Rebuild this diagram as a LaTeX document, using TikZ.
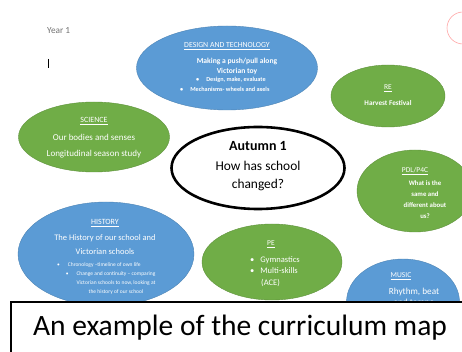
\documentclass[tikz,border=0pt]{standalone}
\usepackage{fontspec}
\setmainfont{Carlito}
\usetikzlibrary{shapes.geometric}
\definecolor{offblue}{HTML}{5B9BD5}
\definecolor{offgreen}{HTML}{70AD47}
\tikzset{
  bubble/.style={ellipse, inner sep=0pt},
  bluebub/.style={bubble, fill=offblue, draw=offblue!85!black, line width=0.4pt},
  greenbub/.style={bubble, fill=offgreen, draw=offgreen!85!black, line width=0.4pt},
  wtxt/.style={text=white, align=center, inner sep=0pt},
  fs/.style 2 args={font=\fontsize{#1}{#2}\selectfont},
  fsb/.style 2 args={font=\fontsize{#1}{#2}\selectfont\bfseries},
}
\newcommand{\hd}[1]{\underline{#1}}
\begin{document}
\begin{tikzpicture}[x=1pt,y=-1pt]
\useasboundingbox (0,0) rectangle (462,352);
\clip (0,0) rectangle (462,352);
\fill[white] (0,0) rectangle (462,352);

% faint logo at top right
\node[circle, draw=red!35, line width=0.6pt, minimum size=32pt, inner sep=0pt] (logo) at (463,28) {};

% Year 1 and cursor
\node[anchor=west, text=black!55, fs={9.3}{10}, inner sep=0pt] (year) at (47,31) {Year 1};
\coordinate (cura) at (48.5,59);
\coordinate (curb) at (48.5,68);
\draw[line width=0.6pt] (cura) -- (curb);

% Design and technology
\node[bluebub, minimum width=181pt, minimum height=84pt] (dt) at (227,68) {};
\node[wtxt, fs={7.8}{10}] (dthd) at (227,46) {\hd{DESIGN AND TECHNOLOGY}};
\node[wtxt, fsb={7.6}{10}] (dtt) at (237,66) {Making a push/pull along\\Victorian toy};
\node[wtxt, fsb={6.2}{9.5}, align=left, anchor=north west] (dtb) at (180,77) {\hspace*{16pt}\textbullet\hspace{7pt}Design, make, evaluate\\\textbullet\hspace{7pt}Mechanisms- wheels and axels};

% RE
\node[greenbub, minimum width=114pt, minimum height=62pt] (re) at (388,96) {};
\node[wtxt, fs={7.5}{8}] (rehd) at (388,88) {\hd{RE}};
\node[wtxt, fsb={7.2}{8}] (ret) at (388,103) {Harvest Festival};

% Science
\node[greenbub, minimum width=151pt, minimum height=70pt] (sci) at (94,137) {};
\node[wtxt, fs={8}{8}] (scihd) at (94,121) {\hd{SCIENCE}};
\node[wtxt, fs={9}{16}] (scit) at (94,146) {Our bodies and senses\\Longitudinal season study};

% Autumn centre
\node[bubble, draw=black, line width=2.6pt, fill=white, minimum width=173pt, minimum height=82pt] (aut) at (258,168) {};
\node[align=center, inner sep=0pt, fsb={14}{14}] (auth) at (258,146) {Autumn 1};
\node[align=center, inner sep=0pt, fs={13.4}{18.5}] (autt) at (258,176) {How has school\\changed?};

% PDL / P4C
\node[greenbub, minimum width=116pt, minimum height=82pt] (pdl) at (415,191) {};
\begin{scope}
\clip (415,191) ellipse (58 and 40);
\node[wtxt, fs={7.5}{8}] (pdlhd) at (415,171) {\hd{PDL/P4C}};
\node[wtxt, fsb={6.8}{11}, anchor=north] (pdlt) at (425,181) {What is the\\same and\\different about\\us?};
\end{scope}

% History
\node[bluebub, minimum width=176pt, minimum height=104pt] (his) at (106,254) {};
\node[wtxt, fs={8}{8}] (hishd) at (105,223) {\hd{HISTORY}};
\node[wtxt, fs={8.5}{14}] (hist) at (105,245) {The History of our school and\\Victorian schools};
\node[wtxt, fs={5.5}{9.3}, anchor=north west, align=left] (hisb1) at (57,262) {\textbullet\hspace{8pt}Chronology \textendash timeline of own life};
\node[wtxt, fs={5.5}{9.3}, anchor=north] (hisb2) at (116,271) {\llap{\textbullet\hspace{8pt}}Change and continuity \textendash{} comparing\\Victorian schools to now, looking at\\the history of our school};

% PE
\node[greenbub, minimum width=140pt, minimum height=76pt] (pe) at (272,262) {};
\begin{scope}
\clip (272,262) ellipse (70 and 38);
\clip (200,220) rectangle (345,286);
\node[wtxt, fs={7.5}{8}] (pehd) at (271,244) {\hd{PE}};
\node[wtxt, fs={8.5}{11.5}, align=left, anchor=north west] (pet) at (250,256) {\textbullet\hspace{6pt}Gymnastics\\\textbullet\hspace{6pt}Multi-skills\\\hspace*{11pt}(ACE)};
\end{scope}

% Music
\node[bluebub, minimum width=113pt, minimum height=86pt] (mus) at (403,302) {};
\node[wtxt, fs={7.5}{8}] (mushd) at (401,276) {\hd{MUSIC}};
\node[wtxt, fs={9.2}{11}] (must) at (414,297.5) {Rhythm, beat\\and tempo};

% caption box
\node[draw=black, line width=1.8pt, fill=white, anchor=north west, minimum width=470pt, minimum height=70pt, inner sep=0pt] (capbox) at (10,301) {};
\node[inner sep=0pt, fs={29.5}{30}] (cap) at (240,328) {An example of the curriculum map};
\end{tikzpicture}
\end{document}
